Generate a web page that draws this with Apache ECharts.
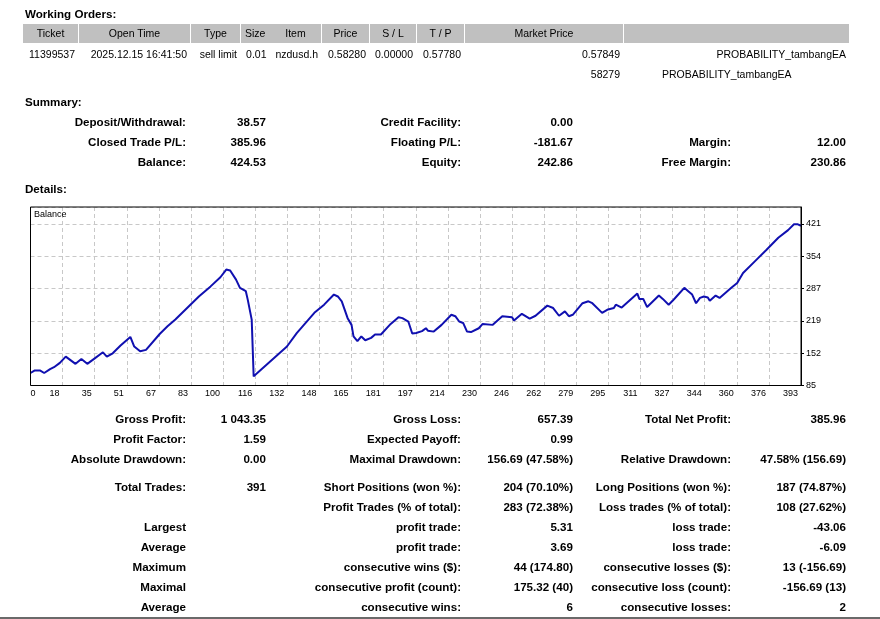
<!DOCTYPE html>
<html><head><meta charset="utf-8">
<script src="https://cdn.jsdelivr.net/npm/echarts@6/dist/echarts.min.js"></script>
<style>
html,body{margin:0;padding:0;background:#fff;}
#page{position:relative;width:880px;height:619px;overflow:hidden;font-family:"Liberation Sans",Arial,sans-serif;color:#000;}
#chart{position:absolute;left:0;top:0;width:880px;height:619px;}
.t{position:absolute;white-space:nowrap;line-height:14px;height:14px;}
.b{font-weight:bold;font-size:11.6px;}
.n{font-size:10.5px;}
.hc{position:absolute;background:#c0c0c0;top:24px;height:19px;line-height:19px;text-align:center;font-size:10.5px;white-space:nowrap;}
#bottomBar{position:absolute;left:0;top:617px;width:880px;height:2px;background:#6a6a6a;}
</style></head><body><div id="page"><div id="chart"></div><div id="bottomBar"></div></div>
<script>
// ---------- data ----------
const orderHeaders = ['Ticket','Open Time','Type','Size','Item','Price','S / L','T / P','Market Price',''];
const orderRow1 = ['11399537','2025.12.15 16:41:50','sell limit','0.01','nzdusd.h','0.58280','0.00000','0.57780','0.57849','PROBABILITY_tambangEA'];
const orderRow2Price = '58279';
const orderRow2Comment = 'PROBABILITY_tambangEA';

const summaryRows = [
  ['Deposit/Withdrawal:','38.57','Credit Facility:','0.00','',''],
  ['Closed Trade P/L:','385.96','Floating P/L:','-181.67','Margin:','12.00'],
  ['Balance:','424.53','Equity:','242.86','Free Margin:','230.86']
];
const detailRows = [
  ['Gross Profit:','1 043.35','Gross Loss:','657.39','Total Net Profit:','385.96'],
  ['Profit Factor:','1.59','Expected Payoff:','0.99','',''],
  ['Absolute Drawdown:','0.00','Maximal Drawdown:','156.69 (47.58%)','Relative Drawdown:','47.58% (156.69)'],
  ['Total Trades:','391','Short Positions (won %):','204 (70.10%)','Long Positions (won %):','187 (74.87%)'],
  ['','','Profit Trades (% of total):','283 (72.38%)','Loss trades (% of total):','108 (27.62%)'],
  ['Largest','','profit trade:','5.31','loss trade:','-43.06'],
  ['Average','','profit trade:','3.69','loss trade:','-6.09'],
  ['Maximum','','consecutive wins ($):','44 (174.80)','consecutive losses ($):','13 (-156.69)'],
  ['Maximal','','consecutive profit (count):','175.32 (40)','consecutive loss (count):','-156.69 (13)'],
  ['Average','','consecutive wins:','6','consecutive losses:','2']
];

const xLabels = ['0','18','35','51','67','83','100','116','132','148','165','181','197','214','230','246','262','279','295','311','327','344','360','376','393'];
const yMin = 85, yInterval = 67.2, yMax = 456;
const xInterval = 16.4, xMax = 393.6;

const tradeNo = [0,2,5,7,10,12,15,18,19,23,26,29,33,37,39,42,46,51,53,56,59,66,70,74,86,92,97,100,102,105,107,110,111,113,114,115,131,136,145,150,155,157,159,162,164,165,167,169,171,174,176,179,184,188,190,193,195,197,200,202,203,206,210,215,217,219,221,223,225,229,231,236,241,246,247,251,255,258,259,264,267,270,273,275,277,282,285,287,292,295,298,299,302,310,311,313,315,321,323,324,326,328,330,334,336,338,340,342,344,346,347,350,352,353,358,361,364,370,376,382,387,390,392,393.6];
const balance = [111,116,116,111,119,123,132,145,145,130,140,130,142,154,145,152,168,186,166,156,159,192,208,222,270,291,310,326,324,305,288,281,263,222,104,104,166,194,236,253,274,270,260,225,211,187,177,187,179,184,191,191,213,227,225,218,193,194,198,204,199,197,211,232,229,218,215,197,196,204,213,211,229,227,220,234,224,230,227,251,246,230,239,229,232,256,260,256,236,243,246,253,247,276,265,265,248,272,265,265,253,261,270,288,281,274,256,267,270,268,261,272,267,265,288,298,319,343,367,392,408,420,420,417];

// ---------- layout ----------
const page = document.getElementById('page');
function put(text, x, y, cls, align){
  if(!text) return;
  const d = document.createElement('div');
  d.className = 't ' + cls;
  d.textContent = text;
  if(align === 'right') d.style.right = (880 - x) + 'px'; else d.style.left = x + 'px';
  d.style.top = (y - 7) + 'px';
  page.appendChild(d);
}
put('Working Orders:', 25, 14, 'b');
const headerCells = [[23,55],[79,111],[191,49],[241,28.5],[270,51],[322,47],[370,46],[417,47],[465,158],[624,225]];
headerCells.forEach((c,i)=>{
  const d = document.createElement('div');
  d.className = 'hc';
  d.style.left = c[0] + 'px'; d.style.width = c[1] + 'px';
  d.textContent = orderHeaders[i];
  page.appendChild(d);
  put(orderRow1[i], c[0] + c[1] - 3, 54, 'n', 'right');
});
put(orderRow2Price, 620, 73.5, 'n', 'right');
put(orderRow2Comment, 662, 73.5, 'n', 'left');

put('Summary:', 25, 102, 'b');
put('Details:', 25, 189, 'b');
const colRight = [186,266,461,573,731,846];
const summaryY = [122,142,162];
summaryRows.forEach((r,ri)=> r.forEach((t,ci)=> put(t, colRight[ci], summaryY[ri], 'b', 'right')));
const detailY = [419,439,459,487,507,527,547,567,587,607];
detailRows.forEach((r,ri)=> r.forEach((t,ci)=> put(t, colRight[ci], detailY[ri], 'b', 'right')));

// ---------- chart ----------
const chart = echarts.init(document.getElementById('chart'));
const fam = '"Liberation Sans", Arial, sans-serif';
chart.setOption({
  animation: false,
  title: {text:'Balance', left:34, top:210, padding:0, textStyle:{fontSize:9, fontWeight:'normal', color:'#000', fontFamily:fam}},
  grid: {left:30.5, top:207, right:79, bottom:233.5, show:true, borderColor:'#000', borderWidth:1, z:5},
  xAxis: {
    type:'value', min:0, max:xMax, interval:xInterval,
    axisLine:{show:false, onZero:false}, axisTick:{show:false},
    splitLine:{show:true, lineStyle:{color:'#c8c8c8', type:[4,3], width:1}},
    axisLabel:{fontSize:9, color:'#000', fontFamily:fam, margin:4, align:'right', alignMinLabel:'left', padding:[0,3,0,0],
      formatter:(v)=>{const i=Math.round(v/xInterval); return xLabels[i] !== undefined ? xLabels[i] : '';}}
  },
  yAxis: {
    type:'value', position:'right', min:yMin, max:yMax, interval:yInterval,
    axisLine:{show:true, onZero:false, lineStyle:{color:'#000'}},
    axisTick:{show:true, length:3, lineStyle:{color:'#000'}},
    splitLine:{show:true, lineStyle:{color:'#c8c8c8', type:[4,3], width:1}},
    axisLabel:{fontSize:9, color:'#000', fontFamily:fam, margin:5, showMaxLabel:false,
      formatter:(v)=> v > yMax - 10 ? '' : String(Math.round(v))}
  },
  series: [{
    type:'line', name:'Balance', data: tradeNo.map((t,i)=>[t, balance[i]]),
    showSymbol:false, silent:true,
    lineStyle:{color:'#1010b0', width:2}
  }]
});
</script></body></html>
